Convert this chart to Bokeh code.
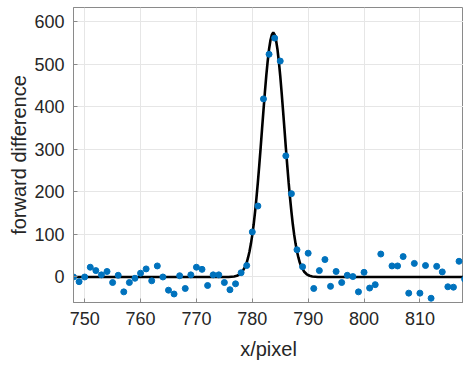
from bokeh.plotting import figure
from bokeh.models import Range1d, FixedTicker
from bokeh.embed import file_html
from bokeh.resources import INLINE

# data points (x in pixel, forward difference)
x_pix = [748, 749, 750, 751, 752, 753, 754, 755, 756, 757, 758, 759, 760, 761, 762,
         763, 764, 765, 766, 767, 768, 769, 770, 771, 772, 773, 774, 775, 776, 777,
         778, 779, 780, 781, 782, 783, 784, 785, 786, 787, 788, 789, 790, 791, 792,
         793, 794, 795, 796, 797, 798, 799, 800, 801, 802, 803, 805, 806, 807, 808,
         809, 810, 811, 812, 813, 814, 815, 816, 817, 818]
fwd_diff = [0, -11, 0, 23, 15, 5, 13, -13, 4, -35, -13, -3, 9, 19, -9,
            26, 0, -31, -40, 3, -27, 5, 23, 18, -20, 5, 5, -13, -30, -16,
            10, 27, 106, 167, 419, 524, 562, 508, 285, 196, 64, 24, 56, -27, 15,
            41, -22, 13, -13, 4, 1, -35, 11, -26, -18, 54, 26, 26, 48, -38,
            32, -38, 27, -50, 25, 12, -23, -24, 37, -5]

# fitted curve
fit_x = [748, 775.75, 776.75, 777.25, 777.75, 778.25, 778.75, 779.0, 779.25, 779.5,
         779.75, 780.0, 780.25, 780.5, 780.75, 781.0, 781.25, 781.5, 781.75, 782.0,
         782.25, 782.5, 782.75, 783.0, 783.25, 783.5, 783.75, 784.0, 784.25, 784.5,
         784.75, 785.0, 785.25, 785.5, 785.75, 786.0, 786.25, 786.5, 786.75, 787.0,
         787.25, 787.5, 787.75, 788.0, 788.25, 788.5, 788.75, 789.25, 789.75, 790.25,
         790.75, 791.75, 818]
fit_y = [0, 0, 1.3, 2.9, 6.4, 13, 25, 34, 46, 60,
         78, 99, 124, 154, 187, 223, 263, 305, 349, 392,
         434, 473, 507, 536, 557, 570, 575, 570, 557, 536,
         507, 473, 434, 392, 349, 305, 263, 223, 187, 154,
         124, 99, 78, 60, 46, 34, 25, 13, 6.4, 2.9,
         1.3, 0, 0]

x_ticks = [750, 760, 770, 780, 790, 800, 810]
y_ticks = [0, 100, 200, 300, 400, 500, 600]

p = figure(width=463, height=365, output_backend="svg", toolbar_location=None,
           x_range=Range1d(748, 817.8), y_range=Range1d(-60, 634),
           min_border_left=73, min_border_right=0, min_border_top=7, min_border_bottom=63)

p.background_fill_color = "white"
p.border_fill_color = "white"
p.outline_line_color = "#8a8a8a"
p.outline_line_width = 1

p.line(fit_x, fit_y, line_color="black", line_width=2.6)
p.scatter(x_pix, fwd_diff, size=6, marker="circle", fill_color="#0072BD",
          line_color="#0072BD")

for ax in (p.xaxis[0], p.yaxis[0]):
    ax.axis_line_color = "#8a8a8a"
    ax.major_tick_line_color = "#8a8a8a"
    ax.major_tick_in = 4
    ax.major_tick_out = 0
    ax.minor_tick_line_color = None
    ax.major_label_text_font = "Liberation Sans"
    ax.major_label_text_font_size = "18px"
    ax.major_label_text_color = "#262626"
    ax.axis_label_text_font = "Liberation Sans"
    ax.axis_label_text_font_size = "20px"
    ax.axis_label_text_font_style = "normal"
    ax.axis_label_text_color = "#262626"

p.xaxis.ticker = FixedTicker(ticks=x_ticks)
p.yaxis.ticker = FixedTicker(ticks=y_ticks)
p.xaxis.axis_label = "x/pixel"
p.yaxis.axis_label = "forward difference"
p.xaxis.major_label_standoff = 9
p.yaxis.major_label_standoff = 9
p.xaxis.axis_label_standoff = 10
p.yaxis.axis_label_standoff = 1

p.xgrid.grid_line_color = "#e6e6e6"
p.ygrid.grid_line_color = "#e6e6e6"

open("out.html", "w").write(file_html(p, INLINE))
